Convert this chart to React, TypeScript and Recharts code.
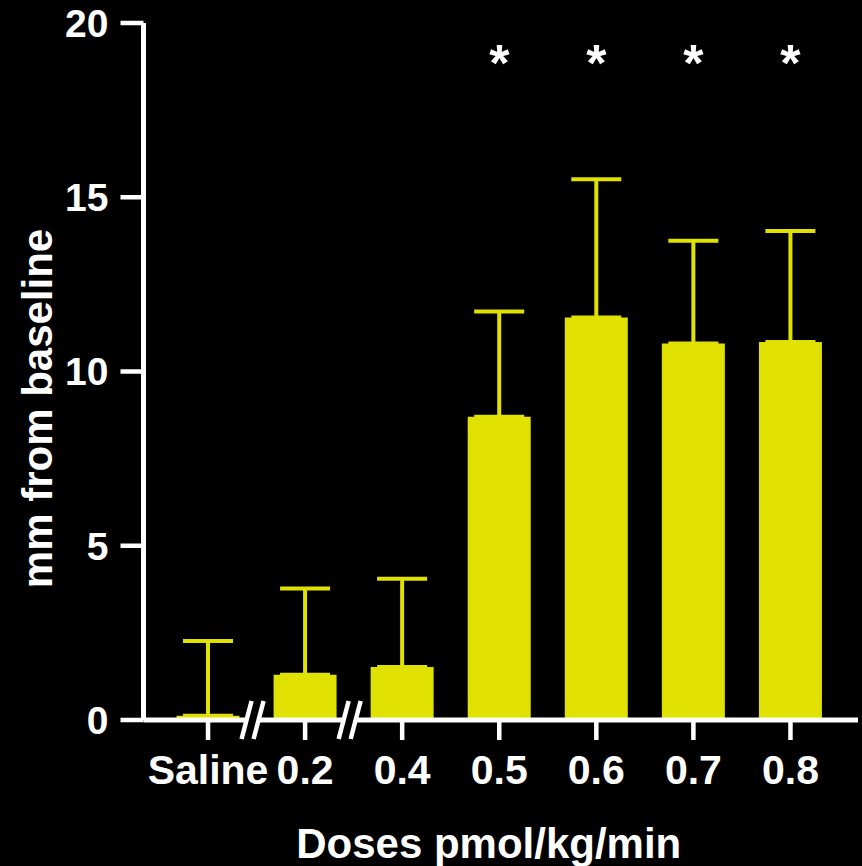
import { BarChart, Bar, XAxis, YAxis, ErrorBar, ReferenceDot } from 'recharts';

const doses = ['Saline', '0.2', '0.4', '0.5', '0.6', '0.7', '0.8'];
const meanChange = [0.12, 1.3, 1.52, 8.7, 11.55, 10.8, 10.85];
const semUpper = [2.15, 2.47, 2.53, 3.02, 3.97, 2.95, 3.18];
const significance = ['', '', '', '*', '*', '*', '*'];
const axisBreakAfter = ['Saline', '0.2'];
const yTicks = [0, 5, 10, 15, 20];
const starLevel = 19.1;

const data = doses.map((dose, i) => ({
  dose,
  value: meanChange[i],
  err: [0, semUpper[i]],
}));

const YELLOW = '#e1e100';
const FONT = '"Liberation Sans", Arial, sans-serif';
const X_TICK_SIZE = 19;
const X_TICK_MARGIN = 16;

// x tick: label and the "//" break on the band's right edge
const DoseTick = (props: any) => {
  const { x, y, payload } = props;
  const axisY = y - X_TICK_SIZE - X_TICK_MARGIN;
  let brk = null;
  if (axisBreakAfter.includes(payload.value)) {
    const half = payload.offset || 48;
    const cx = x + half - 4;
    const h = 19;
    const s = 5;
    brk = (
      <g>
        <polygon
          points={`${cx - 6 - s},${axisY + h} ${cx - 6 + s},${axisY - h} ${cx + 6 + s},${axisY - h} ${cx + 6 - s},${axisY + h}`}
          fill="#000"
        />
        <line x1={cx - 6 - s} y1={axisY + h} x2={cx - 6 + s} y2={axisY - h} stroke="#fff" strokeWidth={4.5} />
        <line x1={cx + 6 - s} y1={axisY + h} x2={cx + 6 + s} y2={axisY - h} stroke="#fff" strokeWidth={4.5} />
      </g>
    );
  }
  return (
    <g>
      <text
        x={x}
        y={y}
        dy="0.71em"
        textAnchor="middle"
        fill="#fff"
        fontSize={41}
        fontWeight={700}
        fontFamily={FONT}
      >
        {payload.value}
      </text>
      {brk}
    </g>
  );
};

// tick mark hanging below the x axis at each category
const TickMark = (props: any) => (
  <rect x={props.cx - 2.25} y={props.cy + 2} width={4.5} height={18} fill="#fff" />
);

const Star = (props: any) => (
  <text
    x={props.cx}
    y={props.cy + 27}
    textAnchor="middle"
    fill="#fff"
    fontSize={52}
    fontWeight={700}
    fontFamily={FONT}
  >
    *
  </text>
);

const App = () => {
  return (
    <div style={{ position: 'absolute', left: 0, top: 0, width: 862, height: 866, background: '#000' }}>
      <BarChart
        width={862}
        height={866}
        data={data}
        margin={{ top: 23, right: 4, bottom: 0, left: 0 }}
        barSize={63}
        style={{ fontFamily: FONT }}
      >
        <YAxis
          domain={[0, 20]}
          ticks={yTicks}
          width={143.5}
          axisLine={{ stroke: '#fff', strokeWidth: 5 }}
          tickLine={{ stroke: '#fff', strokeWidth: 4.5 }}
          tickSize={23}
          tickMargin={12}
          tick={{ fill: '#fff', fontSize: 39, fontWeight: 700 }}
          label={{
            content: (p: any) => {
              const vb = p.viewBox;
              const lx = vb.x + 52;
              const ly = vb.y + vb.height / 2 + 37;
              return (
                <text
                  x={lx}
                  y={ly}
                  transform={`rotate(-90, ${lx}, ${ly})`}
                  textAnchor="middle"
                  fill="#fff"
                  fontSize={42}
                  fontWeight={700}
                  fontFamily={FONT}
                >
                  mm from baseline
                </text>
              );
            },
          }}
        />
        <XAxis
          dataKey="dose"
          height={146}
          interval={0}
          padding={{ left: 16, right: 19 }}
          axisLine={{ stroke: '#fff', strokeWidth: 5 }}
          tickLine={false}
          tickSize={X_TICK_SIZE}
          tickMargin={X_TICK_MARGIN}
          tick={DoseTick}
          label={{
            content: (p: any) => {
              const vb = p.viewBox;
              return (
                <text
                  x={vb.x + vb.width / 2 - 12}
                  y={vb.y + 138}
                  textAnchor="middle"
                  fill="#fff"
                  fontSize={42}
                  fontWeight={700}
                  fontFamily={FONT}
                >
                  Doses pmol/kg/min
                </text>
              );
            },
          }}
        />
        <Bar dataKey="value" fill={YELLOW} isAnimationActive={false}>
          <ErrorBar dataKey="err" width={25} stroke={YELLOW} strokeWidth={4} direction="y" isAnimationActive={false} />
        </Bar>
        {doses.map((d) => (
          <ReferenceDot key={'t' + d} x={d} y={0} r={0} shape={TickMark} ifOverflow="visible" />
        ))}
        {doses.map((d, i) =>
          significance[i] ? (
            <ReferenceDot key={d} x={d} y={starLevel} r={0} shape={Star} ifOverflow="visible" />
          ) : null
        )}
      </BarChart>
    </div>
  );
};

export default App;
